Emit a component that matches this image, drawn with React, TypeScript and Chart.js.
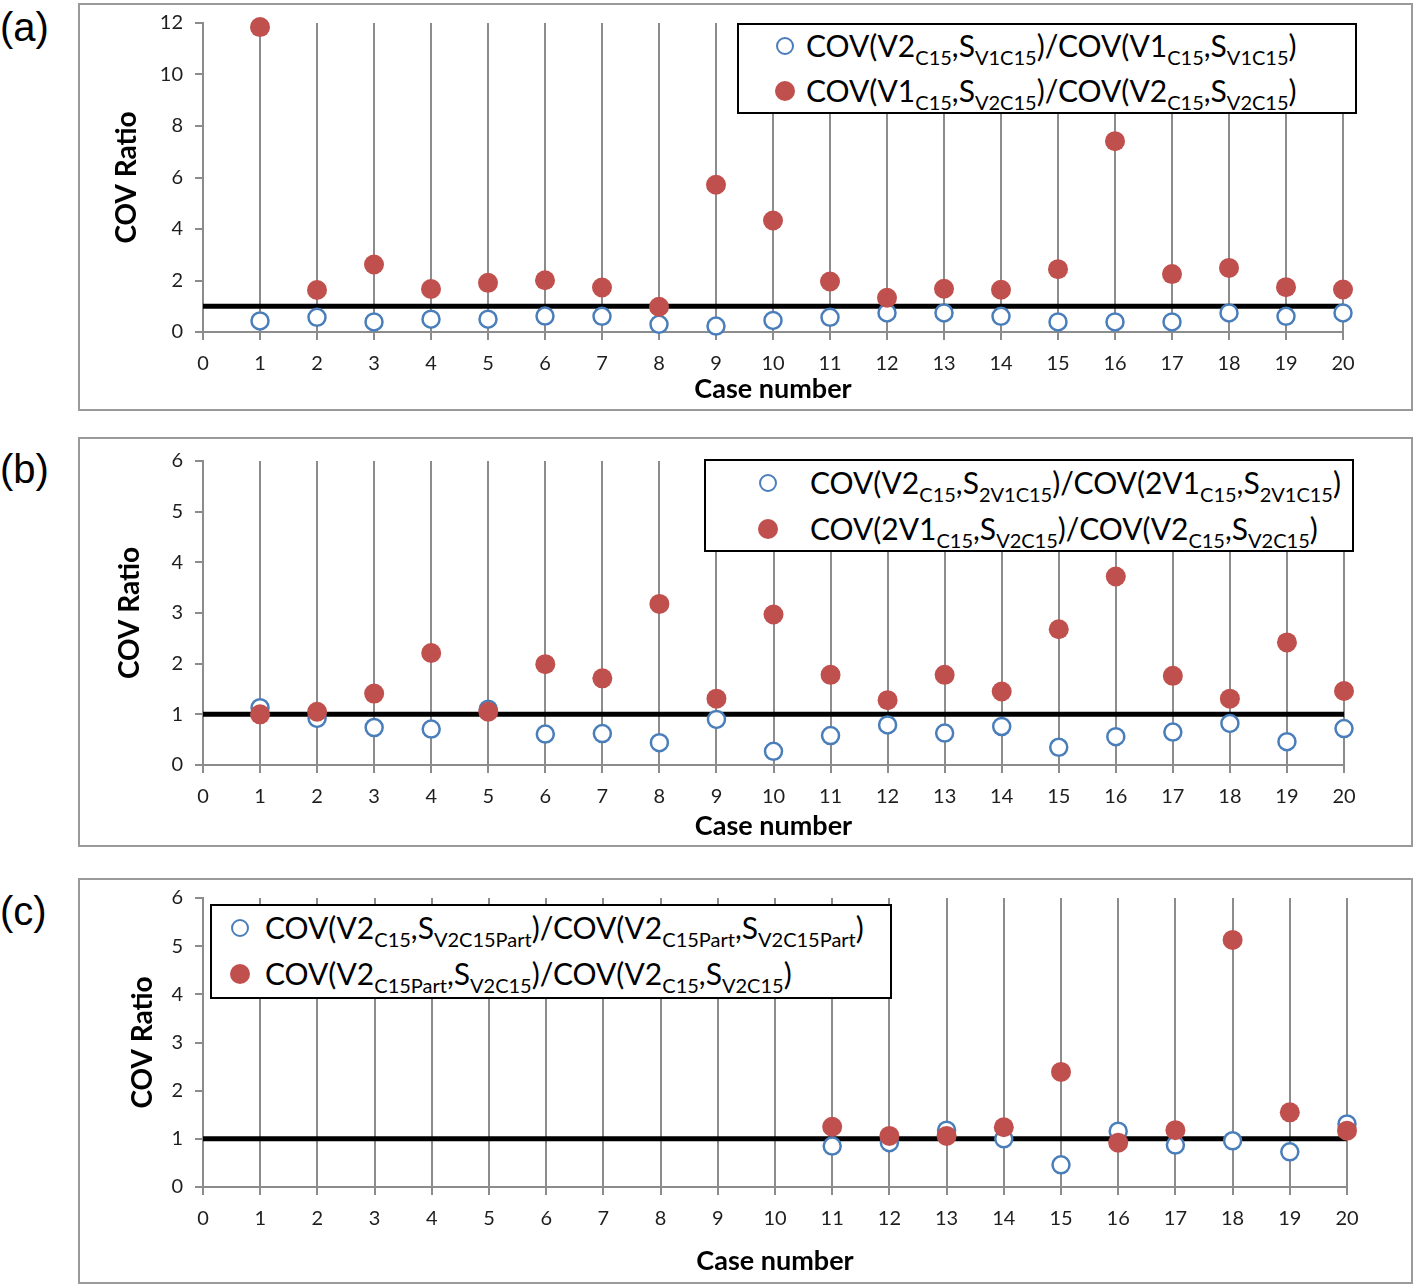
import React, { useEffect, useRef } from "react";
import { Chart, registerables } from "chart.js";

Chart.register(...registerables);

// ---------- data ----------
const CASES = [1, 2, 3, 4, 5, 6, 7, 8, 9, 10, 11, 12, 13, 14, 15, 16, 17, 18, 19, 20];
const REF_LEVEL = 1;

const A_BLUE = [0.43, 0.57, 0.39, 0.5, 0.5, 0.62, 0.61, 0.3, 0.23, 0.45, 0.57, 0.74, 0.74, 0.61, 0.39, 0.39, 0.39, 0.74, 0.61, 0.74];
const A_RED = [11.84, 1.63, 2.62, 1.67, 1.91, 2.01, 1.73, 0.98, 5.72, 4.33, 1.96, 1.33, 1.68, 1.64, 2.44, 7.41, 2.25, 2.49, 1.74, 1.65];

const B_BLUE = [1.13, 0.92, 0.74, 0.71, 1.1, 0.61, 0.62, 0.44, 0.9, 0.27, 0.58, 0.79, 0.63, 0.76, 0.35, 0.56, 0.65, 0.82, 0.46, 0.72];
const B_RED = [1.0, 1.05, 1.41, 2.21, 1.05, 1.99, 1.71, 3.18, 1.31, 2.97, 1.78, 1.28, 1.78, 1.45, 2.68, 3.72, 1.76, 1.31, 2.42, 1.46];

const C_BLUE = [null, null, null, null, null, null, null, null, null, null, 0.85, 0.92, 1.18, 1.0, 0.46, 1.16, 0.87, 0.96, 0.73, 1.31];
const C_RED = [null, null, null, null, null, null, null, null, null, null, 1.25, 1.06, 1.06, 1.24, 2.39, 0.92, 1.18, 5.13, 1.55, 1.17];

const X_MIN = 0;
const X_MAX = 20;
const A_Y_MAX = 12;
const A_Y_STEP = 2;
const BC_Y_MAX = 6;
const BC_Y_STEP = 1;

const X_TITLE = "Case number";
const Y_TITLE = "COV Ratio";

// ---------- styles ----------
const RED = "#c0504d";
const BLUE = "#4a7ebb";
const GRID = "#8c8c8c";
const FONT = "Lato, 'Open Sans', sans-serif";

type Seg = { t: string; sub?: boolean };
type LegendRow = { marker: "open" | "filled"; segs: Seg[] };

const LEG_A: LegendRow[] = [
  { marker: "open", segs: [{ t: "COV(V2" }, { t: "C15", sub: true }, { t: "," }, { t: "S" }, { t: "V1C15", sub: true }, { t: ")/COV(V1" }, { t: "C15", sub: true }, { t: "," }, { t: "S" }, { t: "V1C15", sub: true }, { t: ")" }] },
  { marker: "filled", segs: [{ t: "COV(V1" }, { t: "C15", sub: true }, { t: "," }, { t: "S" }, { t: "V2C15", sub: true }, { t: ")/COV(V2" }, { t: "C15", sub: true }, { t: "," }, { t: "S" }, { t: "V2C15", sub: true }, { t: ")" }] },
];
const LEG_B: LegendRow[] = [
  { marker: "open", segs: [{ t: "COV(V2" }, { t: "C15", sub: true }, { t: "," }, { t: "S" }, { t: "2V1C15", sub: true }, { t: ")/COV(2V1" }, { t: "C15", sub: true }, { t: "," }, { t: "S" }, { t: "2V1C15", sub: true }, { t: ")" }] },
  { marker: "filled", segs: [{ t: "COV(2V1" }, { t: "C15", sub: true }, { t: "," }, { t: "S" }, { t: "V2C15", sub: true }, { t: ")/COV(V2" }, { t: "C15", sub: true }, { t: "," }, { t: "S" }, { t: "V2C15", sub: true }, { t: ")" }] },
];
const LEG_C: LegendRow[] = [
  { marker: "open", segs: [{ t: "COV(V2" }, { t: "C15", sub: true }, { t: "," }, { t: "S" }, { t: "V2C15Part", sub: true }, { t: ")/COV(V2" }, { t: "C15Part", sub: true }, { t: "," }, { t: "S" }, { t: "V2C15Part", sub: true }, { t: ")" }] },
  { marker: "filled", segs: [{ t: "COV(V2" }, { t: "C15Part", sub: true }, { t: "," }, { t: "S" }, { t: "V2C15", sub: true }, { t: ")/COV(V2" }, { t: "C15", sub: true }, { t: "," }, { t: "S" }, { t: "V2C15", sub: true }, { t: ")" }] },
];

type PanelDef = {
  tag: string;
  tagTop: number;
  frame: { left: number; top: number; w: number; h: number };
  area: { l: number; r: number; t: number; b: number };
  yMax: number;
  yStep: number;
  blue: (number | null)[];
  red: (number | null)[];
  yTitlePad: number;
  xTitlePad: number;
  legend: { left: number; top: number; w: number; h: number; markerX: number; textX: number; rows: number[]; items: LegendRow[] };
};

const PANELS: PanelDef[] = [
  {
    tag: "(a)", tagTop: 3,
    frame: { left: 78, top: 3, w: 1335, h: 408 },
    area: { l: 203, r: 1343, t: 23, b: 332 },
    yMax: A_Y_MAX, yStep: A_Y_STEP, blue: A_BLUE, red: A_RED,
    yTitlePad: 32, xTitlePad: 6,
    legend: { left: 737, top: 23, w: 620, h: 91, markerX: 48, textX: 69, rows: [22, 67], items: LEG_A },
  },
  {
    tag: "(b)", tagTop: 445,
    frame: { left: 78, top: 437, w: 1335, h: 410 },
    area: { l: 203, r: 1344, t: 461, b: 765 },
    yMax: BC_Y_MAX, yStep: BC_Y_STEP, blue: B_BLUE, red: B_RED,
    yTitlePad: 35, xTitlePad: 5,
    legend: { left: 704, top: 459, w: 650, h: 93, markerX: 64, textX: 106, rows: [23, 69], items: LEG_B },
  },
  {
    tag: "(c)", tagTop: 887,
    frame: { left: 78, top: 878, w: 1335, h: 406 },
    area: { l: 203, r: 1347, t: 898, b: 1187 },
    yMax: BC_Y_MAX, yStep: BC_Y_STEP, blue: C_BLUE, red: C_RED,
    yTitlePad: 48, xTitlePad: 7,
    legend: { left: 210, top: 904, w: 682, h: 95, markerX: 30, textX: 55, rows: [23, 69], items: LEG_C },
  },
];

function makeConfig(p: PanelDef): any {
  const f = p.frame;
  const a = p.area;
  const padTop = a.t - f.top;
  const padRight = f.left + f.w - a.r;
  const yW = a.l - f.left;
  const xH = f.top + f.h - a.b;
  return {
    type: "scatter",
    data: {
      datasets: [
        {
          label: "red",
          data: CASES.map((c, i) => ({ x: c, y: p.red[i] })),
          pointRadius: 10,
          pointHoverRadius: 10,
          pointBackgroundColor: RED,
          pointBorderColor: RED,
          pointBorderWidth: 0,
          order: 1,
          clip: false,
        },
        {
          label: "blue",
          data: CASES.map((c, i) => ({ x: c, y: p.blue[i] })),
          pointRadius: 8.5,
          pointHoverRadius: 8.5,
          pointBackgroundColor: "#ffffff",
          pointBorderColor: BLUE,
          pointBorderWidth: 2.5,
          order: 2,
          clip: false,
        },
        {
          label: "ref",
          type: "line",
          data: [{ x: X_MIN, y: REF_LEVEL }, { x: X_MAX, y: REF_LEVEL }],
          borderColor: "#000000",
          borderWidth: 5,
          pointRadius: 0,
          showLine: true,
          order: 3,
          clip: false,
        },
      ],
    },
    options: {
      animation: false,
      responsive: false,
      maintainAspectRatio: false,
      events: [],
      layout: { padding: { left: 0, top: padTop, right: padRight, bottom: 0 } },
      plugins: { legend: { display: false }, tooltip: { enabled: false } },
      scales: {
        x: {
          type: "linear",
          min: X_MIN,
          max: X_MAX,
          ticks: { stepSize: 1, autoSkip: false, maxRotation: 0, color: "#1e1e1e", font: { family: FONT, size: 20 }, padding: 12 },
          grid: { color: GRID, lineWidth: 2, tickLength: 8, tickColor: GRID, tickWidth: 2 },
          border: { color: GRID, width: 2 },
          title: { display: true, text: X_TITLE, color: "#000", font: { family: FONT, size: 27, weight: "bold" }, padding: { top: 0, bottom: p.xTitlePad } },
          afterFit: (s: any) => {
            s.height = xH;
            s.paddingLeft = 0;
            s.paddingRight = 0;
          },
        },
        y: {
          type: "linear",
          min: 0,
          max: p.yMax,
          ticks: { stepSize: p.yStep, color: "#1e1e1e", font: { family: FONT, size: 20 }, padding: 12 },
          grid: { color: "rgba(0,0,0,0)", lineWidth: 2, tickLength: 8, tickColor: GRID, tickWidth: 2 },
          border: { color: GRID, width: 2 },
          title: { display: true, text: Y_TITLE, color: "#000", font: { family: FONT, size: 28, weight: "bold" }, padding: { top: p.yTitlePad, bottom: 0 } },
          afterFit: (s: any) => {
            s.width = yW;
            s.paddingTop = 0;
            s.paddingBottom = 0;
          },
        },
      },
    },
  };
}

function Marker({ kind }: { kind: "open" | "filled" }) {
  if (kind === "open") {
    return <span style={{ display: "block", width: 18, height: 18, borderRadius: "50%", border: `2.5px solid ${BLUE}`, background: "#fff", boxSizing: "border-box" }} />;
  }
  return <span style={{ display: "block", width: 20, height: 20, borderRadius: "50%", background: RED }} />;
}

function Legend({ p }: { p: PanelDef }) {
  const L = p.legend;
  return (
    <div style={{ position: "absolute", left: L.left, top: L.top, width: L.w, height: L.h, border: "2px solid #000", background: "#fff", boxSizing: "border-box", zIndex: 3 }}>
      {L.items.map((row, ri) => (
        <React.Fragment key={ri}>
          <div style={{ position: "absolute", left: L.markerX - 10 - 2, top: L.rows[ri] - 10 - 2 + 1, width: 20, height: 20, display: "flex", alignItems: "center", justifyContent: "center" }}>
            <Marker kind={row.marker} />
          </div>
          <div style={{ position: "absolute", left: L.textX - 2, top: L.rows[ri] - 20 - 2, height: 40, display: "flex", alignItems: "center", whiteSpace: "nowrap", fontFamily: FONT, fontSize: 30, color: "#000", lineHeight: 1 }}>
            <span>
              {row.segs.map((s, si) =>
                s.sub ? (
                  <span key={si} style={{ fontSize: 20, position: "relative", top: 8 }}>{s.t}</span>
                ) : (
                  <span key={si}>{s.t}</span>
                )
              )}
            </span>
          </div>
        </React.Fragment>
      ))}
    </div>
  );
}

function Panel({ p }: { p: PanelDef }) {
  const ref = useRef<HTMLCanvasElement | null>(null);
  useEffect(() => {
    if (!ref.current) return;
    const chart = new Chart(ref.current, makeConfig(p));
    return () => chart.destroy();
  }, [p]);
  const f = p.frame;
  return (
    <>
      <div style={{ position: "absolute", left: 0, top: p.tagTop, fontFamily: "'Liberation Sans', Arial, sans-serif", fontSize: 40, lineHeight: "48px", color: "#000" }}>{p.tag}</div>
      <canvas ref={ref} width={f.w} height={f.h} style={{ position: "absolute", left: f.left, top: f.top, width: f.w, height: f.h, zIndex: 1 }} />
      <div style={{ position: "absolute", left: f.left, top: f.top, width: f.w, height: f.h, border: "2px solid #9a9a9a", boxSizing: "border-box", zIndex: 2, pointerEvents: "none" }} />
      <Legend p={p} />
    </>
  );
}

export default function App() {
  return (
    <div style={{ position: "absolute", left: 0, top: 0, width: 1418, height: 1288, background: "#fff", overflow: "hidden" }}>
      {PANELS.map((p) => (
        <Panel key={p.tag} p={p} />
      ))}
    </div>
  );
}
